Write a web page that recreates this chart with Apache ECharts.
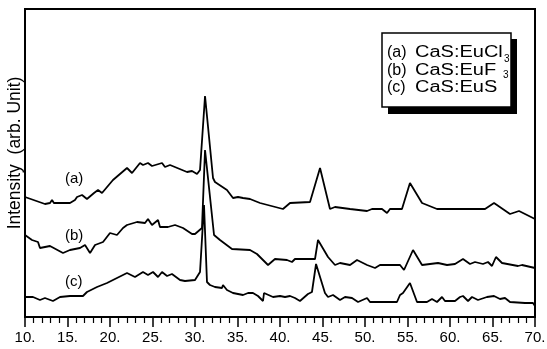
<!DOCTYPE html>
<html><head><meta charset="utf-8">
<script src="https://cdn.jsdelivr.net/npm/echarts@6/dist/echarts.min.js"></script>
<style>html,body{margin:0;padding:0;background:#fff}#c{width:547px;height:349px}</style>
</head><body><div id="c"></div>
<script>
// 2-theta (deg) and intensity (arb.)
const angleA = [10.0,12.35,12.94,13.18,13.4,15.29,15.88,16.12,16.71,17.29,18.12,18.59,19.06,20.35,22.0,22.59,23.53,23.88,24.47,24.94,26.12,26.47,27.06,29.06,29.65,30.24,30.59,30.82,31.18,32.12,32.35,33.76,34.47,35.06,35.65,36.47,37.65,40.35,41.18,43.53,44.71,45.88,46.47,48.24,50.24,50.82,52.0,52.59,52.94,54.35,55.29,56.71,58.47,64.12,65.18,67.06,68.12,70.0];
const intensityA = [120,113,114,117,114,114,117,120,122,118,124,127,124,137,149,144,154,152,154,151,154,150,152,145,146,143,147,149,221,139,135,127,119,120,119,118,114,108,114,115,149,108,110,108,106,108,108,104,108,108,134,114,108,108,114,103,106,98];

const angleB = [10.0,10.82,11.53,11.76,12.94,14.47,15.29,16.47,17.06,17.65,18.24,19.18,20.0,20.82,21.53,22.0,23.18,24.12,24.47,24.94,25.65,25.88,26.82,27.65,28.59,29.65,30.0,30.82,31.18,32.24,32.94,34.35,36.47,37.29,38.59,39.41,40.82,41.41,41.76,44.12,44.47,45.65,46.47,47.06,48.24,49.06,50.24,51.18,51.76,54.12,54.59,55.65,56.71,58.59,59.65,60.59,61.53,62.35,62.94,63.88,64.47,64.94,65.41,66.12,68.0,68.47,70.0];
const intensityB = [82,77,75,69,71,64,67,69,72,64,72,75,84,82,89,92,95,94,98,92,97,90,90,92,89,83,83,89,167,82,77,68,67,63,52,58,57,55,58,58,77,60,52,54,52,57,52,49,52,52,47,67,52,54,52,53,58,53,55,53,55,51,60,54,51,52,49];

const angleC = [10.0,10.94,11.76,12.35,13.29,14.12,15.29,16.82,17.29,18.47,19.65,20.82,22.0,22.94,23.88,24.47,25.06,25.65,26.12,26.71,27.29,28.24,28.82,30.0,30.59,30.82,31.06,31.41,31.76,32.35,33.18,33.29,33.76,34.47,35.65,36.24,36.82,37.41,38.0,38.12,39.18,40.0,40.59,41.18,41.76,42.35,43.29,43.76,44.24,45.29,45.65,46.24,47.06,47.65,48.47,49.18,50.24,50.59,53.76,54.12,54.47,55.29,56.12,57.29,57.88,58.47,59.06,59.41,60.59,61.18,61.53,62.12,62.59,63.29,64.35,65.18,65.88,66.47,67.06,68.82,69.76,70.0];
const intensityC = [20,20,17,19,16,20,21,21,25,30,34,39,44,40,45,42,45,40,45,41,43,37,36,37,45,47,112,35,32,30,29,32,27,24,22,24,24,21,16,24,20,21,20,21,19,16,23,25,53,24,20,22,17,20,19,15,19,15,15,22,24,34,15,15,18,15,20,16,16,20,21,16,20,17,20,21,18,19,15,14,14,11];

const xTicks = [10,15,20,25,30,35,40,45,50,55,60,65,70];
const seriesTags = ['(a)','(b)','(c)'];
const legendLines = [['(a)','CaS:EuCl','3'],['(b)','CaS:EuF','3'],['(c)','CaS:EuS','']];
const yAxisTitle = 'Intensity  (arb. Unit)';

const zip = (xs, ys) => xs.map((x, i) => [x, ys[i]]);
const chart = echarts.init(document.getElementById('c'), null, {renderer: 'canvas'});
const FONT = '"Liberation Sans", Arial, Helvetica, sans-serif';

const lineSeries = (d) => ({type: 'line', data: d, showSymbol: false, symbol: 'none',
  lineStyle: {color: '#000', width: 1.8}, itemStyle: {color: '#000'}, animation: false, silent: true});

const graphics = [];
// y-axis title
graphics.push({type: 'text', x: 15, y: 153, rotation: Math.PI / 2,
  style: {text: yAxisTitle, font: '17.5px ' + FONT, fill: '#000', align: 'center', verticalAlign: 'middle'}});
// in-plot tags
const tagPos = [[75,180],[75,237],[75,283]];
seriesTags.forEach((t, i) => graphics.push({type: 'text', left: tagPos[i][0] - 10, top: tagPos[i][1] - 9,
  style: {text: t, font: '15px ' + FONT, fill: '#000'}}));
// legend box with shadow
graphics.push({type: 'rect', shape: {x: 388, y: 39, width: 129, height: 75}, style: {fill: '#000'}});
graphics.push({type: 'rect', shape: {x: 382, y: 33, width: 129, height: 74}, style: {fill: '#fff', stroke: '#000', lineWidth: 1.5}});
const lineY = [53, 71, 88];
legendLines.forEach((l, i) => {
  graphics.push({type: 'text', x: 387, y: lineY[i], style: {text: l[0], font: '16px ' + FONT, fill: '#000', verticalAlign: 'middle'}});
  graphics.push({type: 'text', x: 415, y: lineY[i], scaleX: 1.25,
    style: {text: l[1], font: '16px ' + FONT, fill: '#000', verticalAlign: 'middle'}});
});
graphics.push({type: 'text', x: 504, y: lineY[0] + 6, style: {text: legendLines[0][2], font: '10px ' + FONT, fill: '#000', verticalAlign: 'middle'}});
graphics.push({type: 'text', x: 503, y: lineY[1] + 4, style: {text: legendLines[1][2], font: '10px ' + FONT, fill: '#000', verticalAlign: 'middle'}});

chart.setOption({
  animation: false,
  backgroundColor: '#fff',
  grid: {left: 25, right: 12, top: 9, bottom: 32, show: true, borderColor: '#000', borderWidth: 2,
    containLabel: false, outerBoundsMode: 'none'},
  xAxis: {type: 'value', min: 10, max: 70, interval: 5,
    axisLine: {show: true, onZero: false, lineStyle: {color: '#000', width: 2}},
    axisTick: {show: true, inside: false, length: 10, lineStyle: {color: '#000', width: 1.5}},
    minorTick: {show: true, splitNumber: 5, length: 6, lineStyle: {color: '#000', width: 1.2}},
    splitLine: {show: false},
    axisLabel: {color: '#000', fontSize: 15, fontFamily: FONT, margin: 13,
      formatter: v => xTicks.includes(v) ? v + '.' : ''}},
  yAxis: {type: 'value', min: 0, max: 308,
    axisLine: {show: true, lineStyle: {color: '#000', width: 2}},
    axisTick: {show: false}, axisLabel: {show: false}, splitLine: {show: false}},
  series: [lineSeries(zip(angleA, intensityA)), lineSeries(zip(angleB, intensityB)), lineSeries(zip(angleC, intensityC))],
  graphic: graphics
});
</script></body></html>
